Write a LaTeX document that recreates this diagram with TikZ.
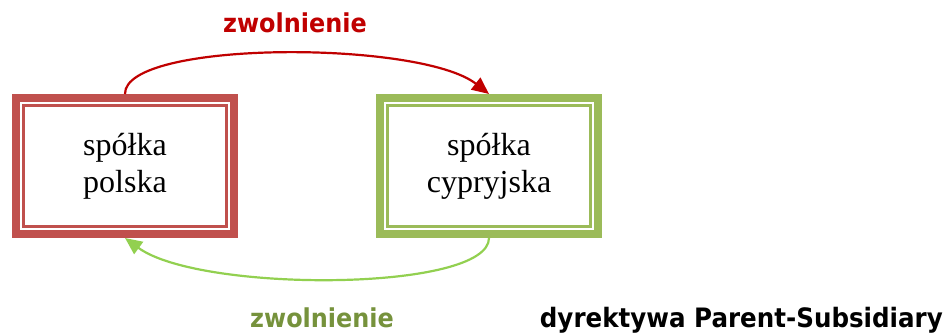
\documentclass[tikz,border=0pt]{standalone}
\usepackage{fontspec}
\setmainfont{Liberation Serif}
\newfontfamily\labelfont{DejaVu Sans}[FakeStretch=0.92]
\usetikzlibrary{arrows.meta}
\definecolor{boxred}{RGB}{192,80,77}
\definecolor{boxgreen}{RGB}{155,187,89}
\definecolor{arrred}{RGB}{192,0,0}
\definecolor{arrgreen}{RGB}{146,208,80}
\definecolor{txtgreen}{RGB}{118,146,60}
\tikzset{
  company/.style={draw=#1, line width=8pt, outer sep=4pt, inner sep=0pt,
    minimum width=218pt, minimum height=136pt, align=center,
    font=\fontsize{32}{37}\selectfont},
  innerline/.style={draw=#1, line width=2.5pt},
  flow/.style={draw=#1, line width=2.2pt, -{Triangle[length=17pt,width=15pt]}},
  lbl/.style={font=\labelfont\bfseries\fontsize{26}{30}\selectfont, inner sep=0pt, anchor=base}
}
\begin{document}
\begin{tikzpicture}[x=1pt,y=-1pt]
\useasboundingbox (0,0) rectangle (944,334);
\node[company=boxred] (pl) at (125,166) {spółka\\polska};
\node[company=boxgreen] (cy) at (489,166) {spółka\\cypryjska};
\draw[innerline=boxred] ([shift={(11.5,11.5)}]pl.north west) rectangle ([shift={(-11.5,-11.5)}]pl.south east);
\draw[innerline=boxgreen] ([shift={(11.5,11.5)}]cy.north west) rectangle ([shift={(-11.5,-11.5)}]cy.south east);
\draw[flow=arrred] (pl.north) .. controls (124,40) and (420,40) .. (cy.north);
\draw[flow=arrgreen] (cy.south) .. controls (489,292) and (200,293) .. (pl.south);
\node[lbl, text=arrred] (top) at (295,33) {zwolnienie};
\node[lbl, text=txtgreen] (bot) at (322,327) {zwolnienie};
\node[lbl, anchor=base east, text=black, font=\labelfont\bfseries\fontsize{26.7}{30}\selectfont] (dir) at (943,327) {dyrektywa Parent-Subsidiary};
\end{tikzpicture}
\end{document}
